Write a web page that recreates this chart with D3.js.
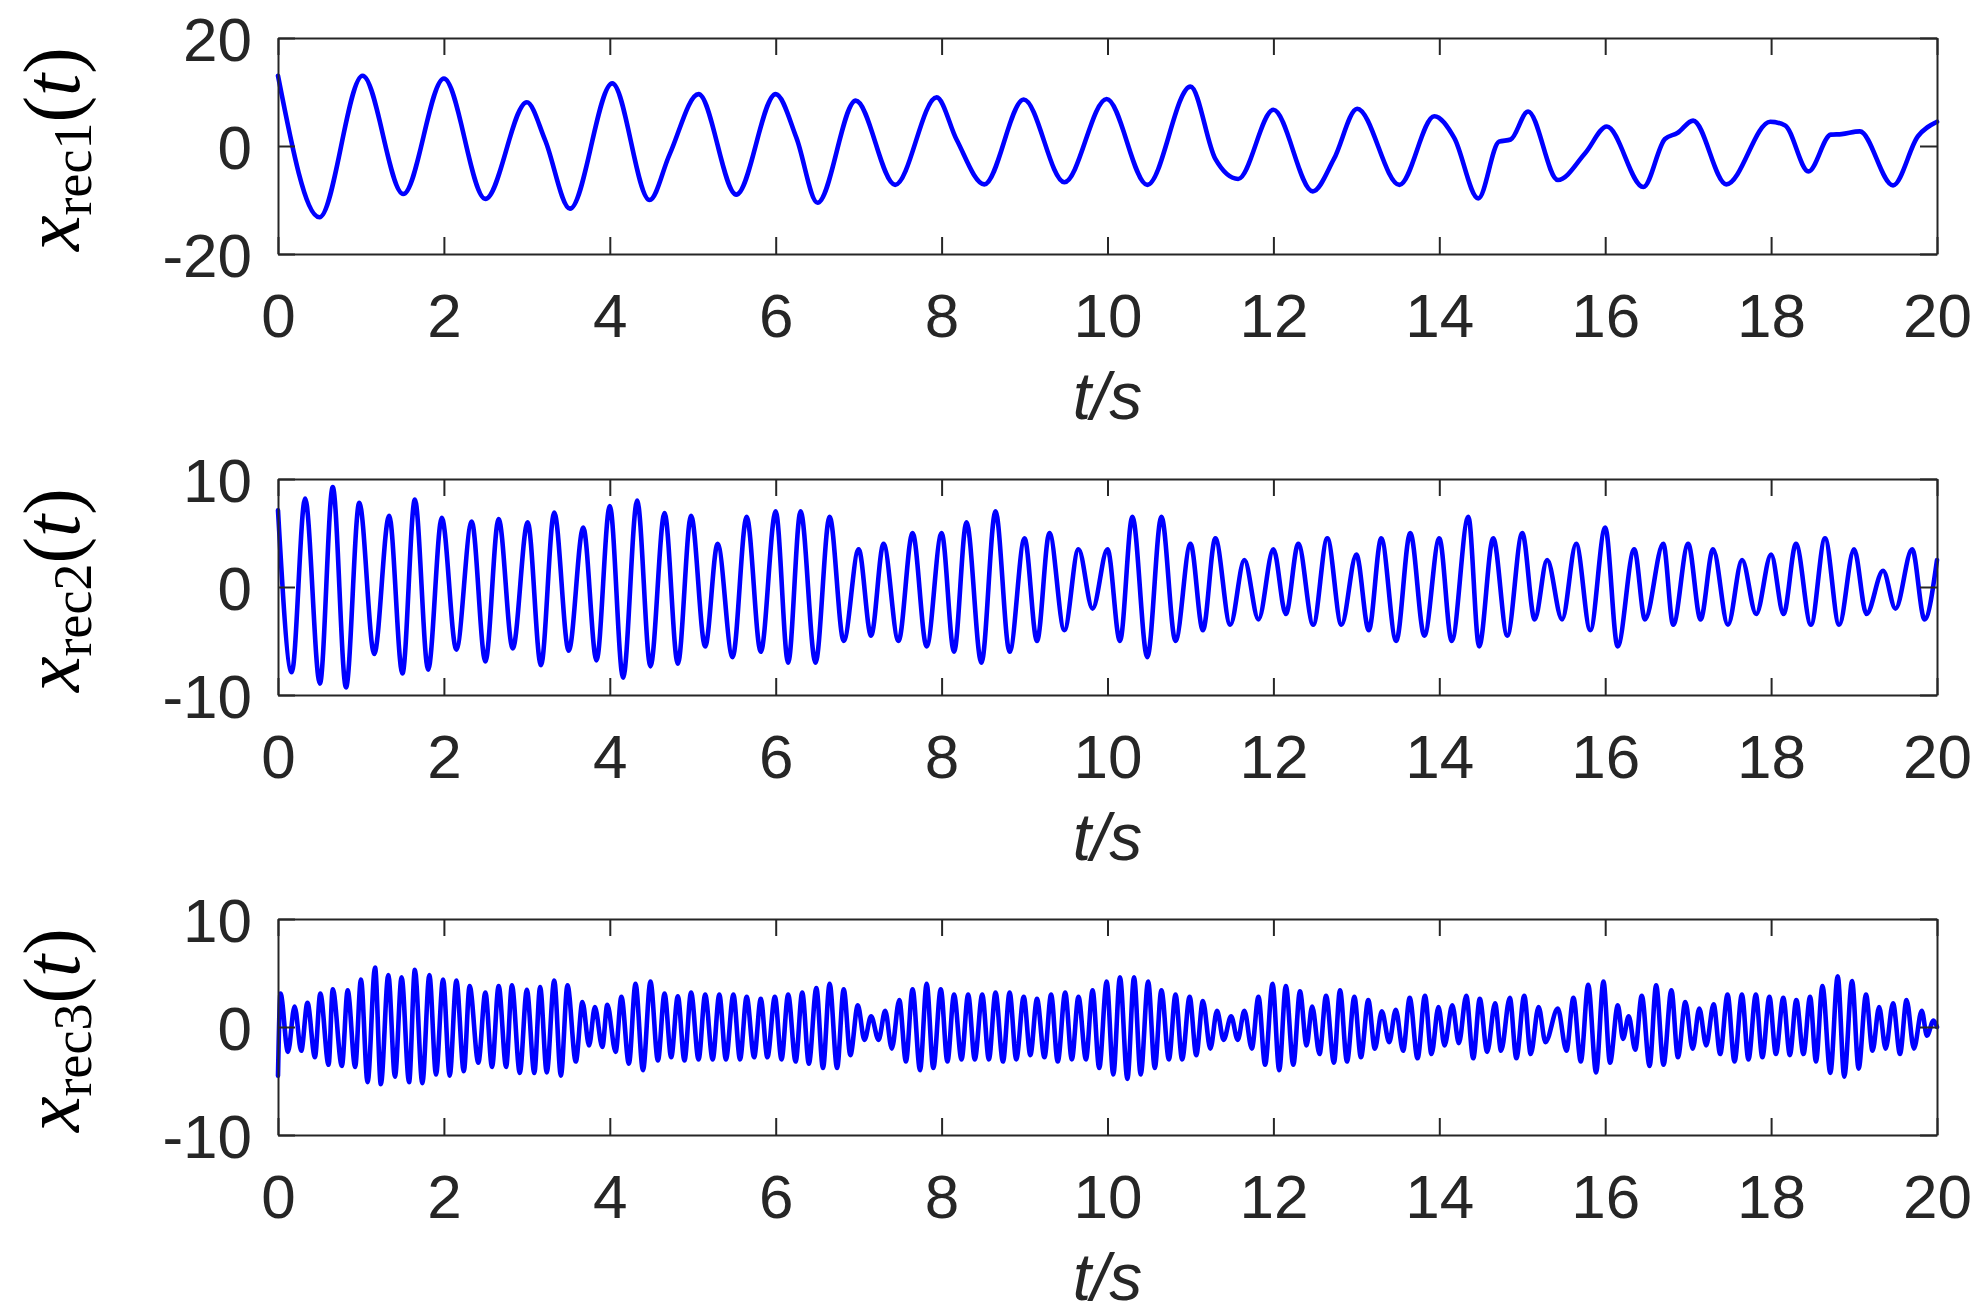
<!DOCTYPE html>
<html><head><meta charset="utf-8">
<script src="https://cdn.jsdelivr.net/npm/d3@7"></script>
<style>body{margin:0;background:#fff}svg{display:block}</style>
</head><body><svg id="c" width="1983" height="1315"></svg>
<script>
const timeTicks = [0,2,4,6,8,10,12,14,16,18,20];
const rec1Ticks = [-20,0,20];
const rec2Ticks = [-10,0,10];
const rec3Ticks = [-10,0,10];
const panelNames = ["rec1","rec2","rec3"];

// x_rec1(t): extrema and shoulder points [t, value]
const rec1 = [[0,13.0],[0.50,-13.2],[1.02,13.0],[1.51,-8.9],[2.0,12.5],[2.50,-9.8],[3.0,8.1],[3.22,1.1],[3.52,-11.6],[4.03,11.6],[4.48,-10.0],[4.72,-1.6],[5.07,9.6],[5.525,-9.0],[6.0,9.6],[6.25,1.5],[6.505,-10.5],[6.965,8.4],[7.44,-7.2],[7.94,9.0],[8.18,1.2],[8.515,-7.1],[8.99,8.6],[9.48,-6.7],[9.99,8.7],[10.48,-7.2],[11.0,11.0],[11.3,-2.4],[11.575,-6.1],[12.0,6.7],[12.475,-8.4],[12.73,-2.4],[13.01,6.9],[13.52,-7.2],[13.94,5.5],[14.18,1.5],[14.47,-9.7],[14.72,0.8],[14.86,1.2],[15.07,6.4],[15.43,-6.3],[15.76,-1.3],[16.02,3.6],[16.46,-7.6],[16.72,1.3],[16.87,2.4],[17.06,4.7],[17.46,-7.1],[17.99,4.5],[18.17,3.8],[18.45,-4.7],[18.72,2.1],[18.85,2.2],[19.07,2.7],[19.47,-7.3],[19.77,1.8],[20,4.5]];

// x_rec2(t): alternating extrema [t, value]
const rec2 = [[0,7.1],[0.166,-7.9],[0.327,8.2],[0.505,-8.95],[0.66,9.25],[0.82,-9.3],[0.98,7.8],[1.16,-6.2],[1.34,6.6],[1.50,-8.0],[1.65,8.1],[1.81,-7.65],[1.975,6.4],[2.15,-5.8],[2.335,6.05],[2.50,-6.9],[2.66,6.3],[2.83,-5.7],[3.01,6.0],[3.17,-7.25],[3.33,6.9],[3.505,-5.9],[3.68,5.5],[3.84,-6.8],[4.0,7.5],[4.16,-8.4],[4.33,8.0],[4.49,-7.35],[4.66,6.85],[4.82,-7.1],[4.98,6.6],
[5.15,-5.5],[5.3,4],[5.48,-6.5],[5.65,6.5],[5.82,-6],[6.0,7],[6.15,-7],[6.3,7],[6.48,-7],[6.65,6.5],[6.82,-5],[7.0,3.5],[7.15,-4.5],[7.3,4],[7.48,-5],[7.65,5],[7.82,-5.5],[8.0,5],[8.15,-6],[8.3,6],[8.48,-7],[8.65,7],[8.82,-6],[9.0,4.5],[9.15,-5],[9.3,5],[9.48,-4],[9.65,3.5],[9.82,-2],[10.0,3.5],[10.15,-5],[10.3,6.5],[10.48,-6.5],[10.65,6.5],[10.82,-5],[11.0,4],[11.15,-4],[11.3,4.5],[11.48,-3.5],[11.65,2.5],[11.82,-3],[12.0,3.5],[12.15,-2.5],[12.3,4],[12.48,-3.5],[12.65,4.5],[12.82,-3.5],[13.0,3],[13.15,-4],[13.3,4.5],[13.48,-5],[13.65,5],[13.82,-4.5],[14.0,4.5],[14.15,-5],[14.35,6.5],[14.48,-5.5],[14.65,4.5],[14.82,-4.5],[15.0,5],[15.15,-3],[15.3,2.5],[15.48,-3],[15.65,4],[15.82,-4],[16.0,5.5],[16.15,-5.5],[16.35,3.5],[16.48,-3],[16.7,4],[16.82,-3.5],[17.0,4],[17.15,-3],[17.3,3.5],[17.48,-3.5],[17.65,2.5],[17.82,-2.5],[18.0,3],[18.15,-2.5],[18.3,4],[18.48,-3.5],[18.65,4.5],[18.82,-3.5],[19.0,3.5],[19.15,-2.5],[19.35,1.5],[19.5,-2],[19.7,3.5],[19.85,-3],[20,2.5]];

// x_rec3(t): alternating extrema [t, value]
const rec3 = [[0,-4.5],[0.03,3.1],[0.12,-2.3],[0.20,1.9],[0.28,-2.2],[0.355,2.25],[0.445,-2.8],[0.51,3.1],[0.61,-3.5],[0.66,3.5],[0.77,-3.6],[0.84,3.4],[0.93,-3.7],[1.0,4.4],[1.08,-5.1],[1.17,5.5],[1.24,-5.3],[1.33,4.8],[1.41,-4.6],[1.49,4.6],[1.58,-5.1],[1.65,5.3],[1.74,-5.2],[1.825,4.8],[1.905,-4.4],[1.99,4.4],[2.07,-4.5],[2.15,4.3],[2.24,-4.1],[2.31,3.8],[2.415,-3.3],[2.50,3.2],[2.58,-3.7],[2.66,3.8],[2.75,-3.7],[2.82,3.85],[2.915,-4.25],[3.0,3.45],[3.09,-4.25],[3.16,3.7],[3.24,-4.2],[3.33,4.3],[3.41,-4.5],[3.49,3.85],[3.59,-3.2],[3.67,2.3],[3.75,-1.7],[3.82,1.85],[3.91,-1.85],[3.97,2.05],[4.07,-2.3],[4.14,2.8],[4.23,-3.4],[4.31,4.0],[4.40,-4.0],[4.49,4.2],[4.58,-3.1],[4.66,3.1],[4.74,-2.8],[4.82,2.85],[4.90,-3.1],[4.98,3.2],
[5.07,-3],[5.15,3],[5.24,-3],[5.32,3],[5.40,-3],[5.49,3],[5.57,-3],[5.65,2.8],[5.74,-2.8],[5.82,2.6],[5.90,-2.8],[5.99,2.8],[6.07,-3],[6.15,3],[6.24,-3.2],[6.32,3.2],[6.40,-3.4],[6.49,3.6],[6.57,-3.8],[6.65,4],[6.74,-3.8],[6.82,3.5],[6.90,-2.6],[6.99,2],[7.07,-1.2],[7.15,1],[7.24,-1.2],[7.32,1.5],[7.40,-2],[7.49,2.5],[7.57,-3.2],[7.65,3.5],[7.74,-4],[7.82,4],[7.90,-3.8],[7.99,3.5],[8.07,-3.2],[8.15,3],[8.24,-3],[8.32,3],[8.40,-3],[8.49,3],[8.57,-3],[8.65,3.2],[8.74,-3.2],[8.82,3.2],[8.90,-3],[8.99,2.8],[9.07,-2.6],[9.15,2.6],[9.24,-2.8],[9.32,3],[9.40,-3.2],[9.49,3.2],[9.57,-3],[9.65,2.8],[9.74,-3],[9.82,3.4],[9.90,-3.8],[9.99,4.2],[10.07,-4.4],[10.15,4.6],[10.24,-4.8],[10.32,4.6],[10.40,-4.4],[10.49,4.2],[10.57,-3.8],[10.65,3.4],[10.74,-3],[10.82,3],[10.90,-3],[10.99,2.8],[11.07,-2.6],[11.15,2.4],[11.24,-2],[11.32,1.5],[11.40,-1.2],[11.49,1],[11.57,-1.2],[11.65,1.5],[11.74,-2],[11.82,2.8],[11.90,-3.5],[11.99,4],[12.07,-4],[12.15,3.8],[12.24,-3.5],[12.32,3.3],
[12.40,-1.7],[12.467,1.9],[12.556,-2.5],[12.635,2.9],[12.73,-3.3],[12.803,3.4],[12.887,-3.2],[12.976,2.8],[13.055,-2.8],[13.144,2.5],[13.223,-2.0],[13.307,1.45],[13.396,-1.4],[13.475,1.6],[13.564,-2.2],[13.643,2.7],[13.738,-2.9],[13.827,2.9],[13.906,-2.5],[13.99,1.85],[14.063,-1.7],[14.157,2.0],[14.236,-1.5],[14.325,2.9],[14.409,-2.9],[14.488,2.6],[14.577,-2.3],[14.672,2.2],[14.745,-2.2],[14.85,2.7],[14.929,-2.9],[15.024,2.9],[15.102,-2.5],[15.197,1.85],[15.28,-1.4],[15.428,1.7],[15.533,-2.2],[15.617,2.7],[15.706,-3.2],[15.795,3.9],[15.89,-4.2],[15.979,4.2],[16.058,-3.3],[16.152,2.0],[16.215,-1.1],[16.283,1.0],[16.362,-2.1],[16.441,2.9],[16.535,-3.6],[16.614,3.85],[16.703,-3.5],[16.798,3.4],[16.877,-2.8],[16.966,2.3],[17.055,-2.0],[17.134,1.7],[17.218,-1.7],[17.307,2.1],[17.386,-2.5],[17.475,3.0],[17.559,-3.2],[17.648,3.0],[17.727,-3.0],[17.816,3.0],[17.895,-2.8],[17.979,2.8],[18.058,-2.5],[18.147,2.7],[18.226,-2.6],[18.304,2.5],[18.39,-2.5],[18.47,2.8],[18.541,-3.2],[18.619,3.8],[18.714,-4.25],[18.803,4.7],[18.882,-4.6],[18.976,4.25],[19.055,-3.85],[19.144,3.0],[19.223,-2.2],[19.302,1.85],[19.381,-2.0],[19.47,2.2],[19.554,-2.5],[19.633,2.5],[19.722,-2.0],[19.816,1.5],[19.879,-0.8],[19.958,0.6],[20,0.0]];

const seriesList = [rec1, rec2, rec3];
const tickList = [rec1Ticks, rec2Ticks, rec3Ticks];

const svg = d3.select("#c");
svg.append("rect").attr("width",1983).attr("height",1315).attr("fill","#fff");
const left = 278, width = 1659, height = 216;
const tops = [38, 479, 919];
const axisColor = "#262626";
const tickFont = "'Liberation Sans', Arial, Helvetica, sans-serif";
const fmt = d => String(d);

const x = d3.scaleLinear().domain([0,20]).range([left, left+width]);

seriesList.forEach((data, i) => {
  const top = tops[i];
  const ticks = tickList[i];
  const y = d3.scaleLinear().domain([ticks[0], ticks[ticks.length-1]]).range([top+height, top]);
  const g = svg.append("g");

  const line = d3.line().x(d => x(d[0])).y(d => y(d[1])).curve(d3.curveMonotoneX);
  g.append("path").datum(data).attr("d", line)
    .attr("fill","none").attr("stroke","#0000ff").attr("stroke-width",4.6)
    .attr("stroke-linejoin","round").attr("stroke-linecap","round");

  const styleAxis = (sel) => {
    sel.attr("font-family", null).attr("font-size", null);
    sel.selectAll("path.domain").attr("stroke", axisColor).attr("stroke-width", 2);
    sel.selectAll(".tick line").attr("stroke", axisColor).attr("stroke-width", 2);
    sel.selectAll(".tick text").attr("fill", axisColor).attr("font-family", tickFont).attr("font-size", 62);
  };
  g.append("g").attr("transform", `translate(0,${top+height})`)
    .call(d3.axisBottom(x).tickValues(timeTicks).tickSizeInner(-17).tickSizeOuter(0).tickPadding(39).tickFormat(fmt))
    .call(styleAxis);
  g.append("g").attr("transform", `translate(0,${top})`)
    .call(d3.axisTop(x).tickValues(timeTicks).tickSizeInner(-17).tickSizeOuter(0).tickFormat(""))
    .call(styleAxis);
  g.append("g").attr("transform", `translate(${left},0)`)
    .call(d3.axisLeft(y).tickValues(ticks).tickSizeInner(-17).tickSizeOuter(0).tickPadding(26).tickFormat(fmt))
    .call(styleAxis)
    .call(s => s.selectAll(".tick text").attr("dy","0.36em"));
  g.append("g").attr("transform", `translate(${left+width},0)`)
    .call(d3.axisRight(y).tickValues(ticks).tickSizeInner(-17).tickSizeOuter(0).tickFormat(""))
    .call(styleAxis);

  g.append("text").attr("x", left + width/2).attr("y", top + height + 165)
    .attr("text-anchor","middle").attr("fill", axisColor)
    .attr("font-family", tickFont).attr("font-style","italic").attr("font-size", 66)
    .text("t/s");

  const yl = g.append("text")
    .attr("transform", `translate(79,${top + height/2 + 3}) rotate(-90)`)
    .attr("text-anchor","middle").attr("fill","#000")
    .attr("font-family","'Liberation Serif','Times New Roman',serif").attr("font-size", 80);
  yl.append("tspan").attr("font-style","italic").text("x");
  yl.append("tspan").attr("font-size", 54).attr("dy", 12).text(panelNames[i]);
  yl.append("tspan").attr("dy", -12).text("(");
  yl.append("tspan").attr("font-style","italic").text("t");
  yl.append("tspan").text(")");
});
</script>
</body></html>
